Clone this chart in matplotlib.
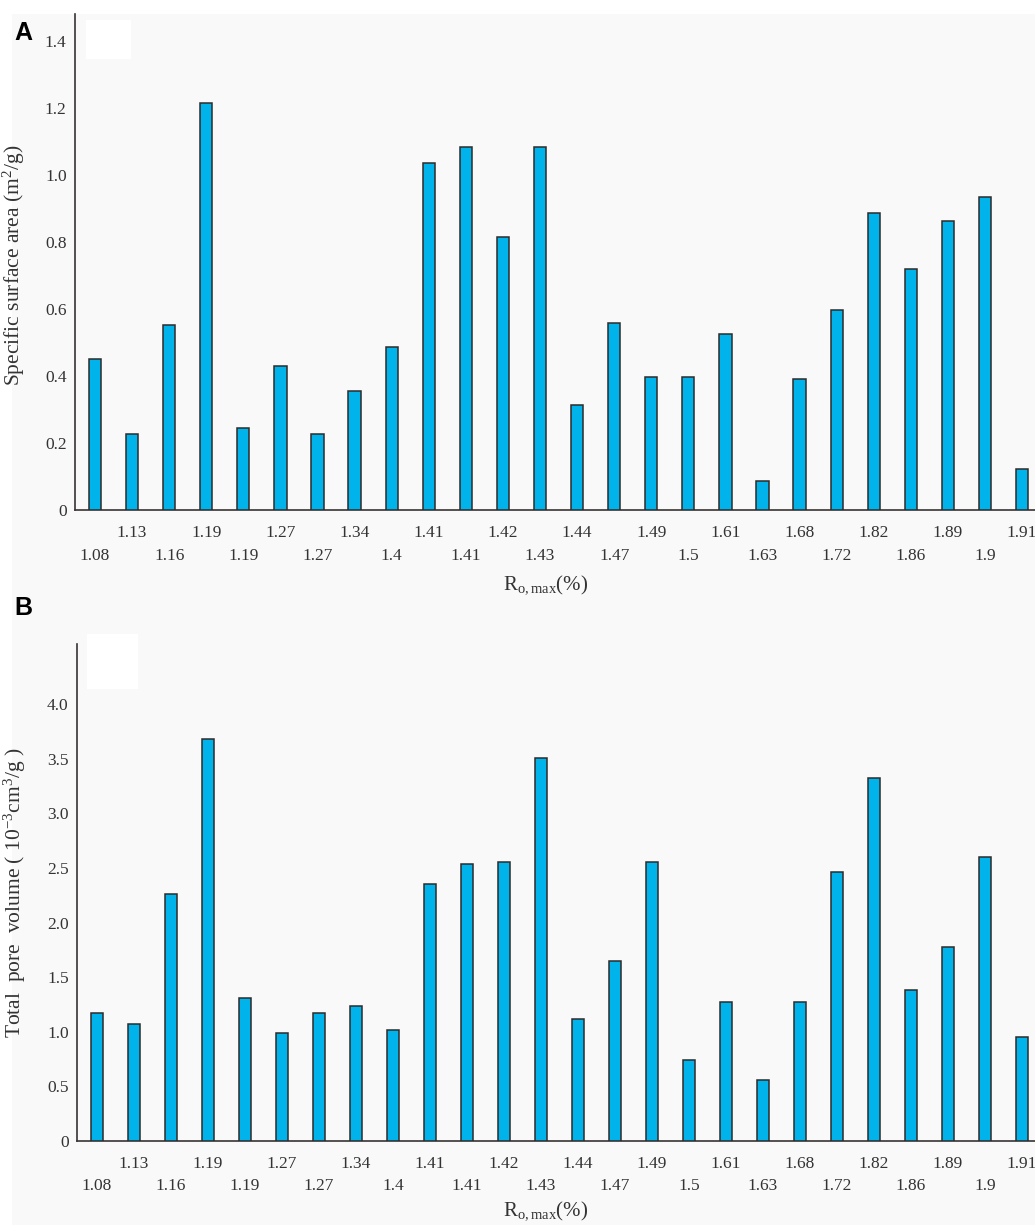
import matplotlib
matplotlib.use("Agg")
import matplotlib.pyplot as plt
from matplotlib.patches import Rectangle
import numpy as np

# ---- data ----
ro_labels = ["1.08", "1.13", "1.16", "1.19", "1.19", "1.27", "1.27", "1.34", "1.4",
             "1.41", "1.41", "1.42", "1.43", "1.44", "1.47", "1.49", "1.5", "1.61",
             "1.63", "1.68", "1.72", "1.82", "1.86", "1.89", "1.9", "1.91"]
surface_area = [0.45, 0.227, 0.552, 1.215, 0.246, 0.43, 0.228, 0.355, 0.486,
                1.035, 1.083, 0.815, 1.083, 0.312, 0.557, 0.398, 0.398, 0.526,
                0.086, 0.39, 0.596, 0.886, 0.719, 0.862, 0.933, 0.123]
pore_volume = [1.17, 1.07, 2.26, 3.68, 1.31, 0.99, 1.17, 1.24, 1.02,
               2.35, 2.54, 2.55, 3.51, 1.12, 1.65, 2.55, 0.74, 1.27,
               0.56, 1.27, 2.46, 3.32, 1.38, 1.78, 2.60, 0.95]
yticks_a = [0, 0.2, 0.4, 0.6, 0.8, 1.0, 1.2, 1.4]
yticklabels_a = ["0", "0.2", "0.4", "0.6", "0.8", "1.0", "1.2", "1.4"]
yticks_b = [0, 0.5, 1.0, 1.5, 2.0, 2.5, 3.0, 3.5, 4.0]
yticklabels_b = ["0", "0.5", "1.0", "1.5", "2.0", "2.5", "3.0", "3.5", "4.0"]

plt.rcParams["mathtext.fontset"] = "custom"
plt.rcParams["mathtext.rm"] = "Liberation Serif"
plt.rcParams["mathtext.it"] = "Liberation Serif:italic"

BG = "#f9f9f9"
BAR = "#00b3ea"
EDGE = "#2e2a2a"
TXT = "#333333"
SERIF = ["Liberation Serif", "DejaVu Serif"]
TICK_FS = 12.5

W, H = 1035, 1225
fig = plt.figure(figsize=(W / 100, H / 100), dpi=100)
fig.patch.set_facecolor("white")
fig.add_artist(Rectangle((12 / W, 0), 1 - 12 / W, 1 - 14 / H, transform=fig.transFigure,
                         facecolor=BG, edgecolor="none", zorder=0))

def px_axes(l, t, r, b):
    return fig.add_axes([l / W, 1 - b / H, (r - l) / W, (b - t) / H])

def style(ax, values, yticks, yticklabels, ylim, ylabel, ylabel_xy, xlabel_xy):
    x = np.arange(len(values))
    ax.set_facecolor("none")
    ax.bar(x, values, width=0.33, color=BAR, edgecolor=EDGE, linewidth=1.1, zorder=3)
    ax.set_xlim(-0.54, 25.35)
    ax.set_ylim(*ylim)
    for s in ["top", "right"]:
        ax.spines[s].set_visible(False)
    for s in ["left", "bottom"]:
        ax.spines[s].set_color("#3a3434")
        ax.spines[s].set_linewidth(1.2)
    ax.set_yticks(yticks)
    ax.set_yticklabels(yticklabels, fontfamily=SERIF, fontsize=TICK_FS, color=TXT)
    ax.tick_params(axis="y", length=0, pad=6)
    # alternating two-row x tick labels
    ax.set_xticks(x[0::2])
    ax.set_xticklabels(ro_labels[0::2], fontfamily=SERIF, fontsize=TICK_FS, color=TXT)
    ax.set_xticks(x[1::2], minor=True)
    ax.set_xticklabels(ro_labels[1::2], minor=True, fontfamily=SERIF, fontsize=TICK_FS, color=TXT)
    ax.tick_params(axis="x", which="major", length=0, pad=27)
    ax.tick_params(axis="x", which="minor", length=0, pad=11)
    ax.set_ylabel(ylabel, fontfamily=SERIF, fontsize=15.5, color=TXT)
    ax.yaxis.set_label_coords(*ylabel_xy)
    ax.set_xlabel(r"R$_{\rm o,max}$(%)", fontfamily=SERIF, fontsize=15, color=TXT)
    ax.xaxis.set_label_coords(*xlabel_xy)

axA = px_axes(75, 14, 1035, 510)
style(axA, surface_area, yticks_a, yticklabels_a, (0, 1.48),
      r"Specific surface area (m$^{2}$/g)", (-0.050, 0.494), (0.49, -0.128))

axB = px_axes(77, 644, 1035, 1141)
style(axB, pore_volume, yticks_b, yticklabels_b, (0, 4.55),
      r"Total  pore  volume ( 10$^{-3}$cm$^{3}$/g )", (-0.051, 0.50), (0.489, -0.118))

# blank white boxes
fig.add_artist(Rectangle((86 / W, 1 - 59 / H), 45 / W, 39 / H, transform=fig.transFigure,
                         facecolor="white", edgecolor="none", zorder=5))
fig.add_artist(Rectangle((87 / W, 1 - 689 / H), 51 / W, 55 / H, transform=fig.transFigure,
                         facecolor="white", edgecolor="none", zorder=5))

fig.text(14 / W, 1 - 40 / H, "A", fontfamily="Liberation Sans", fontweight="bold",
         fontsize=18, color="black", ha="left", va="baseline")
fig.text(14 / W, 1 - 615 / H, "B", fontfamily="Liberation Sans", fontweight="bold",
         fontsize=18, color="black", ha="left", va="baseline")

fig.savefig("out.png", dpi=100, facecolor=fig.get_facecolor())
